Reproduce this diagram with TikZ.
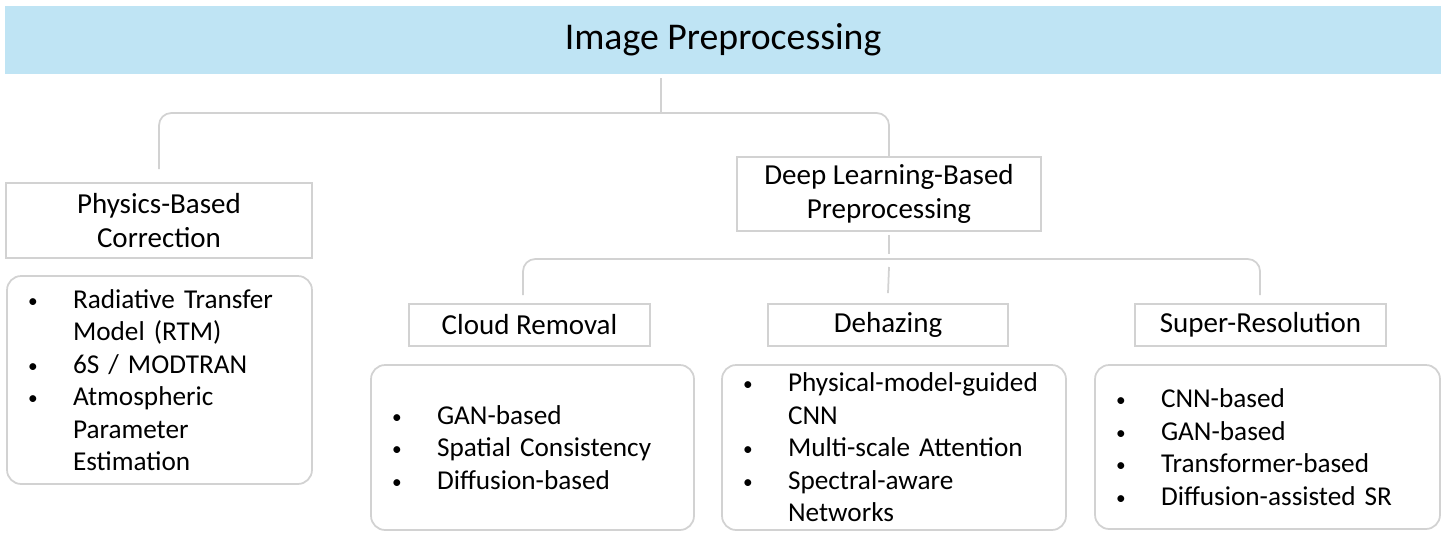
\documentclass[tikz,border=0pt]{standalone}
\usepackage{fontspec}
\setmainfont{Carlito}
\usepackage{xcolor}
\usepackage{tikz}
\usetikzlibrary{positioning, calc}
\definecolor{bandblue}{RGB}{191,228,244}
\definecolor{linegray}{RGB}{210,210,210}
\newcommand{\bitem}{\makebox[0.9cm][l]{\raisebox{0.5pt}{\fontsize{11}{11}\selectfont\textbullet}}}
\newcommand{\bcont}{\hspace*{0.9cm}}

\begin{document}
\begin{tikzpicture}[
    x=0.02cm, y=-0.02cm,
    band/.style={fill=bandblue, minimum width=28.72cm, minimum height=1.36cm,
                 font=\fontsize{21.5}{25}\selectfont, text centered},
    head/.style={draw=linegray, line width=1pt, fill=white, align=center,
                 font=\fontsize{16.5}{19.3}\selectfont},
    list/.style={draw=linegray, line width=1pt, rounded corners=8pt, fill=white,
                 align=left, inner xsep=0.42cm, font=\fontsize{15.5}{18.5}\selectfont},
    conn/.style={draw=linegray, line width=1pt, rounded corners=7pt},
]
\useasboundingbox (0,0) rectangle (1452,545);

% --- Root ---
\node[band] (title) at (723,40) {Image Preprocessing};

% --- Level one ---
\node[head, minimum width=6.12cm, minimum height=1.5cm] (phys) at (159,220.5)
    {Physics-Based\\Correction};
\node[head, minimum width=6.08cm, minimum height=1.48cm] (dl) at (889,194)
    {Deep Learning-Based\\Preprocessing};
\node[list, text width=5.26cm, minimum height=4.16cm] (physlist) at (159.5,380)
    {\bitem Radiative Transfer\\ \bcont Model (RTM)\\ \bitem 6S / MODTRAN\\
     \bitem Atmospheric\\ \bcont Parameter\\ \bcont Estimation};

% --- Level two ---
\node[head, minimum width=4.82cm, minimum height=0.84cm] (cloud) at (529.5,325) {Cloud Removal};
\node[head, minimum width=4.8cm, minimum height=0.84cm] (dehaze) at (888,325) {Dehazing};
\node[head, minimum width=5.02cm, minimum height=0.84cm] (sr) at (1260.5,325) {Super-Resolution};

\node[list, text width=5.62cm, minimum height=3.3cm] (cloudlist) at (532.5,447.5)
    {\bitem GAN-based\\ \bitem Spatial Consistency\\ \bitem Diffusion-based};
\node[list, text width=6.04cm, minimum height=3.3cm] (dehazelist) at (894,447.5)
    {\bitem Physical-model-guided\\ \bcont CNN\\ \bitem Multi-scale Attention\\
     \bitem Spectral-aware\\ \bcont Networks};
\node[list, text width=6.06cm, minimum height=3.28cm] (srlist) at (1267.5,447)
    {\bitem CNN-based\\ \bitem GAN-based\\ \bitem Transformer-based\\
     \bitem Diffusion-assisted SR};

% --- Connectors: root -> level one ---
\coordinate (top) at (661,113);
\draw[conn] ($(title.south -| top)+(0,4)$) -- (top);
\draw[conn] ($(phys.north)+(0,-13)$) |- (top) -| (dl.north);

% --- Connectors: deep learning -> level two ---
\coordinate (mid) at (889,259);
\draw[conn] ($(dl.south)+(0,3)$) -- ($(mid)+(0,-5)$);
\draw[conn] ($(cloud.north -| 523,0)+(0,-8)$) |- (mid) -| ($(sr.north -| 1260,0)+(0,-8)$);
\draw[conn] ($(mid)+(0,8)$) -- ($(dehaze.north)+(0,-10)$);

\end{tikzpicture}
\end{document}
